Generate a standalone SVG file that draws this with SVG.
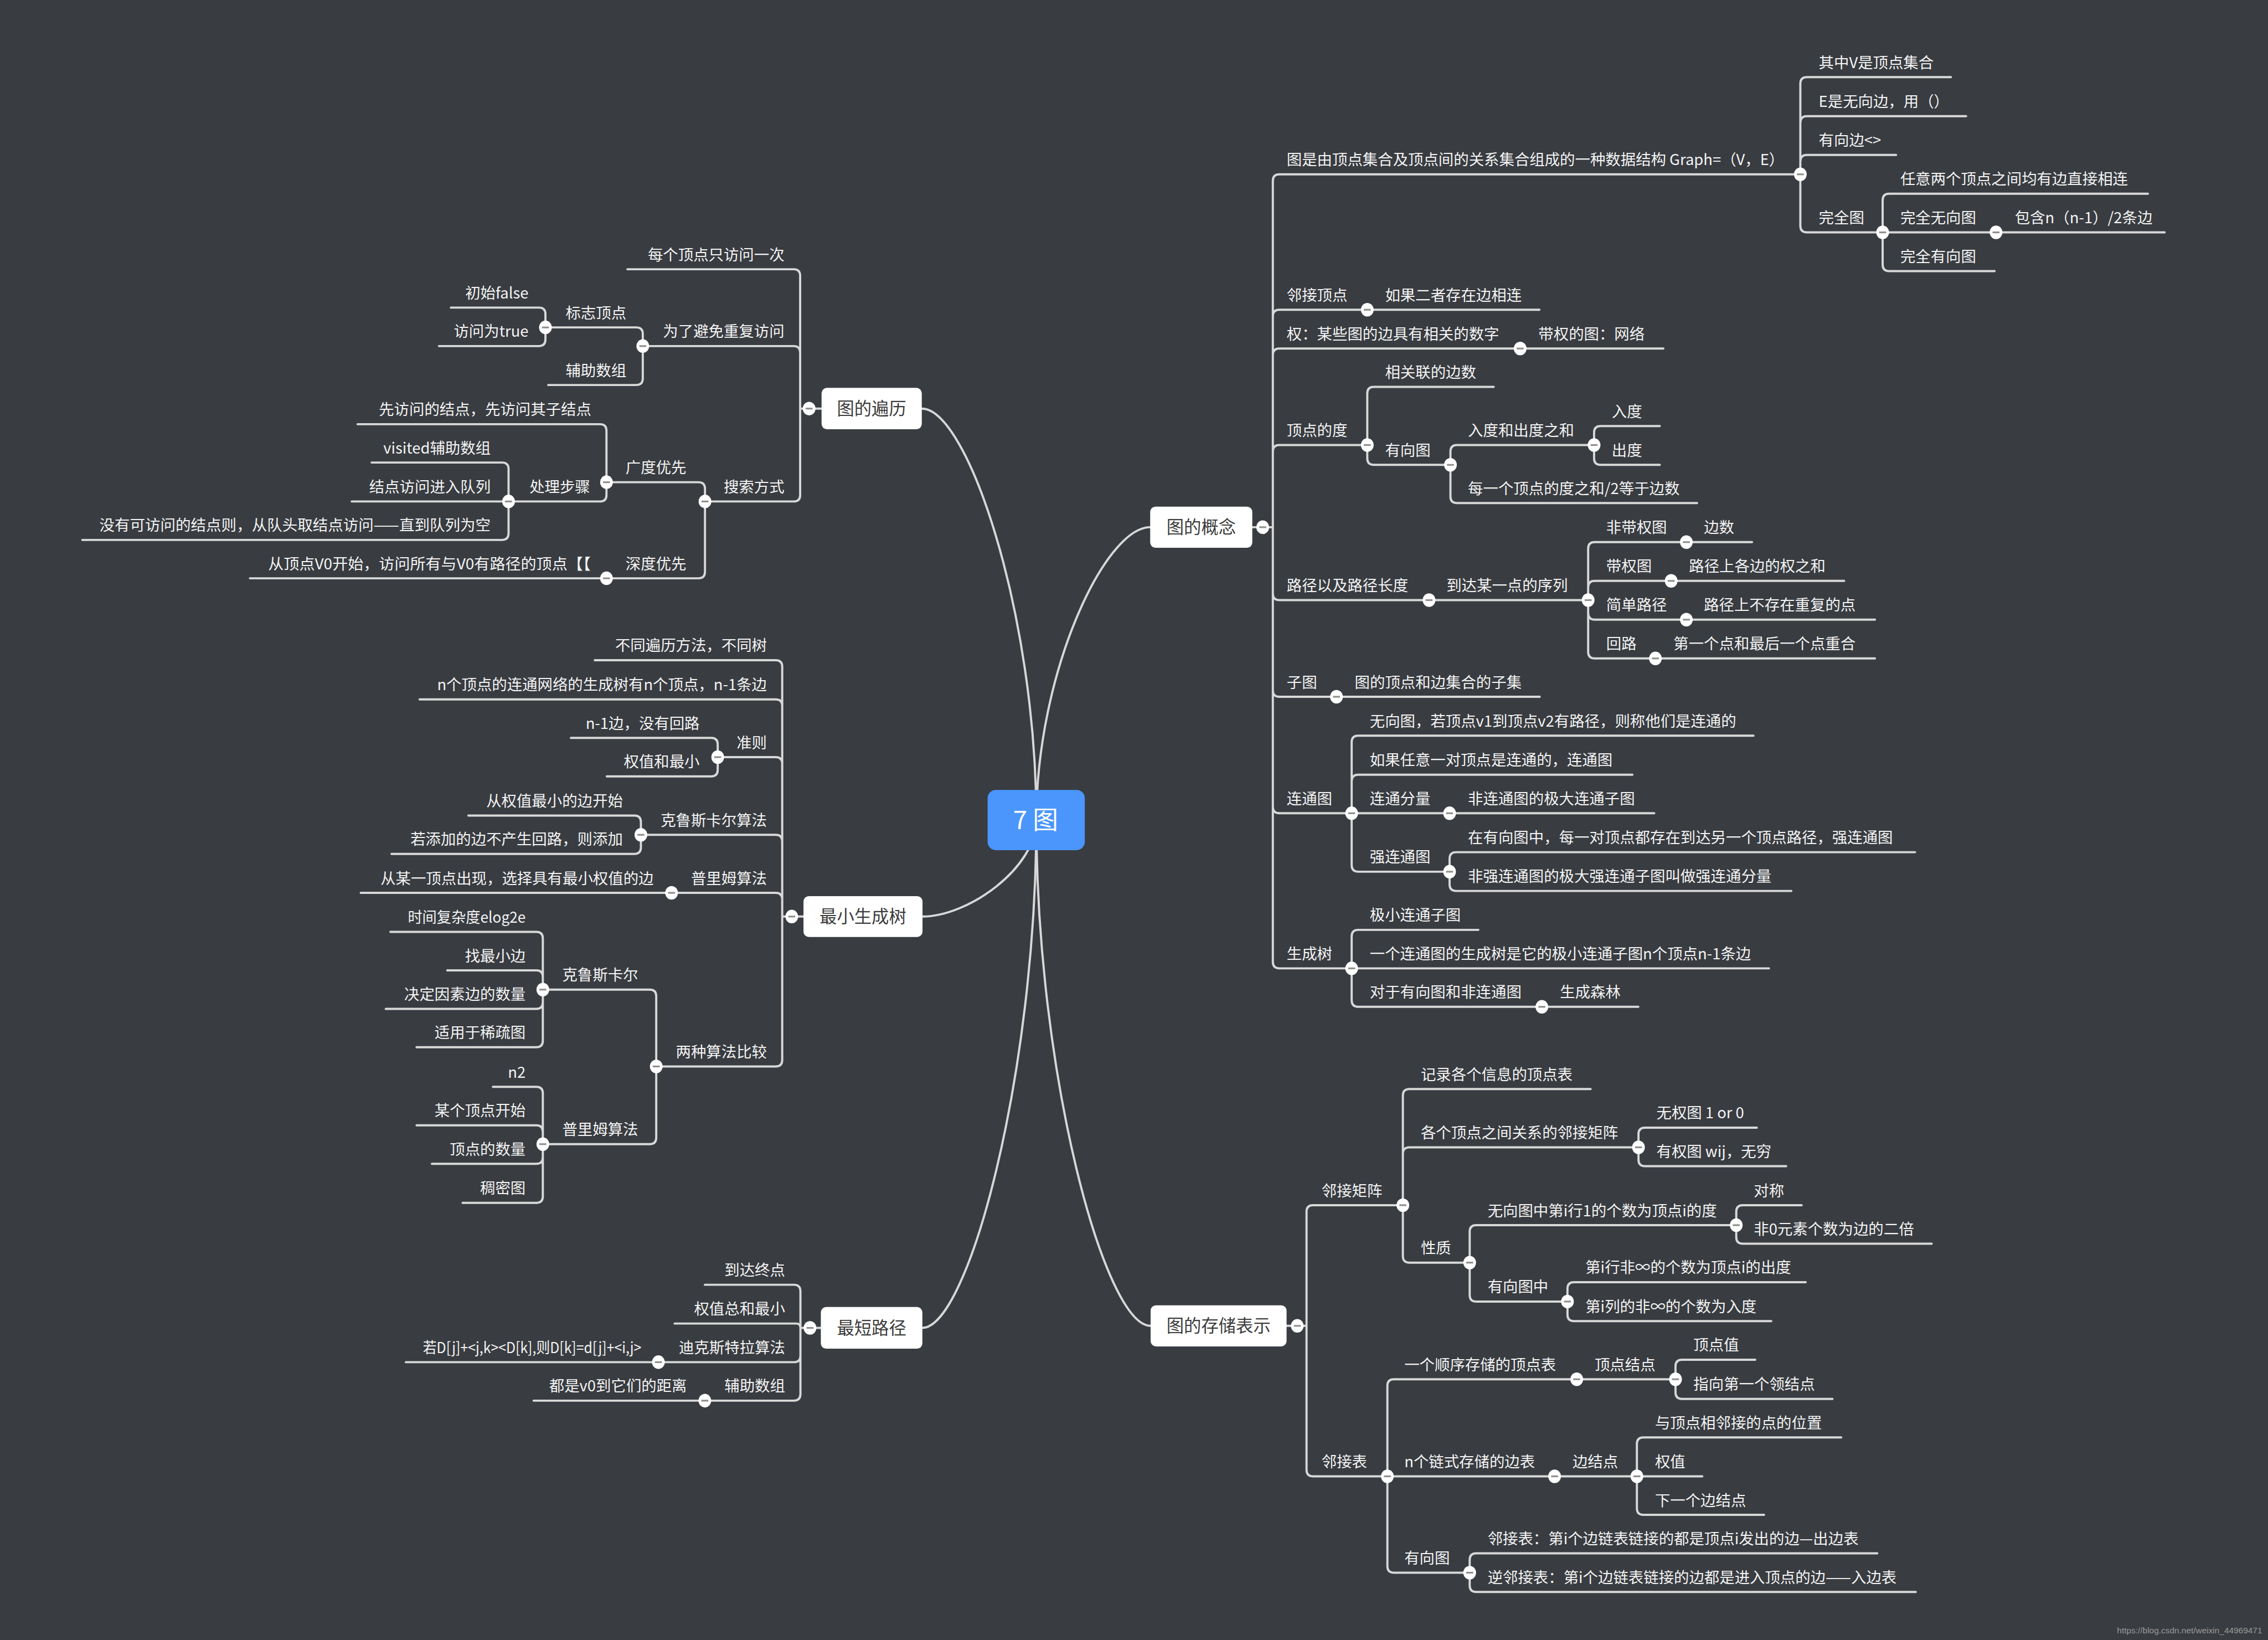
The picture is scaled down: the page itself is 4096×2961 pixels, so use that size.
<svg xmlns="http://www.w3.org/2000/svg" xmlns:xlink="http://www.w3.org/1999/xlink" width="4096" height="2961" viewBox="0 0 4096 2961">
<style>
.s{font-family:"Noto Sans CJK SC","Noto Sans",sans-serif;font-size:10.5px;fill:#f4f4f4}
.e{text-anchor:end}
.m{font-family:"Noto Sans CJK SC","Noto Sans",sans-serif;font-size:12px;fill:#3c3c3c;text-anchor:middle}
.c{fill:none;stroke:#d8d8d8;stroke-width:1.5;stroke-linecap:round}
.box{fill:#ffffff}
</style>
<defs>
<g id="k"><ellipse rx="4.4" ry="4.7" fill="#ffffff"/><rect x="-2.4" y="-0.6" width="4.8" height="1.2" fill="#8e8e8e"/></g>
</defs>
<rect width="4096" height="2961" fill="#393c41"/>
<g transform="scale(2.6122)">
<g id="connectors" class="c">
<path d="M716.5,566.8 C716.5,424.6 669,282.4 637.3,282.4"/>
<path d="M716.5,566.8 C716.5,465.6 763.7,364.4 795.2,364.4"/>
<path d="M716.5,566.8 C716.5,600 669.3,633.5 637.8,633.5"/>
<path d="M716.5,566.8 C716.5,742.3 669.3,917.8 637.7,917.8"/>
<path d="M716.5,566.8 C716.5,741.6 763.7,916.4 795.5,916.4"/>
<path d="M865.8,364.4 H880
M880,364.4 V125 Q880,120.5 884.5,120.5 H1244.7
M880,364.4 V218.6 Q880,214.1 884.5,214.1 H1064.3
M880,364.4 V245.4 Q880,240.9 884.5,240.9 H1150
M880,364.4 V312.1 Q880,307.6 884.5,307.6 H945.3
M880,364.4 V410.3 Q880,414.8 884.5,414.8 H1098
M880,364.4 V477.1 Q880,481.6 884.5,481.6 H1064.5
M880,364.4 V557.6 Q880,562.1 884.5,562.1 H934.5
M880,364.4 V664.8 Q880,669.3 884.5,669.3 H934.5"/>
<path d="M1244.7,120.5 V57.8 Q1244.7,53.3 1249.2,53.3 H1348.8
M1244.7,120.5 V84.8 Q1244.7,80.3 1249.2,80.3 H1359.3
M1244.7,120.5 V111.6 Q1244.7,107.1 1249.2,107.1 H1310.9
M1244.7,120.5 V156.1 Q1244.7,160.6 1249.2,160.6 H1301.6
M1301.6,160.6 V138.4 Q1301.6,133.9 1306.1,133.9 H1485
M1301.6,160.6 H1496.6
M1301.6,160.6 V182.9 Q1301.6,187.4 1306.1,187.4 H1379"/>
<path d="M945.3,307.6 V271.9 Q945.3,267.4 949.8,267.4 H1032.7
M945.3,307.6 V316.8 Q945.3,321.3 949.8,321.3 H1002.8
M1002.8,321.3 V312.1 Q1002.8,307.6 1007.3,307.6 H1102.1
M1002.8,321.3 V343.2 Q1002.8,347.7 1007.3,347.7 H1173.3
M1102.1,307.6 V299 Q1102.1,294.5 1106.6,294.5 H1147.5
M1102.1,307.6 V316.8 Q1102.1,321.3 1106.6,321.3 H1147.5"/>
<path d="M1098,414.8 V379.2 Q1098,374.7 1102.5,374.7 H1211.3
M1098,414.8 V406 Q1098,401.5 1102.5,401.5 H1275
M1098,414.8 V423.8 Q1098,428.3 1102.5,428.3 H1296.3
M1098,414.8 V450.6 Q1098,455.1 1102.5,455.1 H1296.3"/>
<path d="M934.5,562.1 V513 Q934.5,508.5 939,508.5 H1212.3
M934.5,562.1 V540 Q934.5,535.5 939,535.5 H1128.6
M934.5,562.1 H1143.7
M934.5,562.1 V598 Q934.5,602.5 939,602.5 H1002.2
M1002.2,602.5 V593.5 Q1002.2,589 1006.7,589 H1324
M1002.2,602.5 V611.3 Q1002.2,615.8 1006.7,615.8 H1238.5
M934.5,669.3 V647.2 Q934.5,642.7 939,642.7 H1022.1
M934.5,669.3 H1223
M934.5,669.3 V691.4 Q934.5,695.9 939,695.9 H1132.7"/>
<path d="M889.5,916.4 H903.3
M903.3,916.4 V837.5 Q903.3,833 907.8,833 H969.9
M903.3,916.4 V1015.9 Q903.3,1020.4 907.8,1020.4 H959.2
M969.9,833 V757.2 Q969.9,752.7 974.4,752.7 H1099.7
M969.9,833 V797.5 Q969.9,793 974.4,793 H1132.8
M969.9,833 V868.2 Q969.9,872.7 974.4,872.7 H1016.1
M1132.8,793 V783.9 Q1132.8,779.4 1137.3,779.4 H1214.6
M1132.8,793 V801.5 Q1132.8,806 1137.3,806 H1234.9
M1016.1,872.7 V851.3 Q1016.1,846.8 1020.6,846.8 H1200.4
M1016.1,872.7 V895.1 Q1016.1,899.6 1020.6,899.6 H1083.7
M1200.4,846.8 V837.5 Q1200.4,833 1204.9,833 H1245.6
M1200.4,846.8 V855.1 Q1200.4,859.6 1204.9,859.6 H1335.5
M1083.7,899.6 V890.7 Q1083.7,886.2 1088.2,886.2 H1248.4
M1083.7,899.6 V908.6 Q1083.7,913.1 1088.2,913.1 H1224.6"/>
<path d="M959.2,1020.4 V957.8 Q959.2,953.3 963.7,953.3 H1158.4
M959.2,1020.4 H1131.7
M959.2,1020.4 V1082.5 Q959.2,1087 963.7,1087 H1016.1
M1158.4,953.3 V944.3 Q1158.4,939.8 1162.9,939.8 H1213.5
M1158.4,953.3 V962.4 Q1158.4,966.9 1162.9,966.9 H1266.9
M1131.7,1020.4 V998 Q1131.7,993.5 1136.2,993.5 H1273
M1131.7,1020.4 H1176.9
M1131.7,1020.4 V1042.5 Q1131.7,1047 1136.2,1047 H1219.6
M1016.1,1087 V1078.1 Q1016.1,1073.6 1020.6,1073.6 H1297.9
M1016.1,1087 V1095.8 Q1016.1,1100.3 1020.6,1100.3 H1324.5"/>
<path d="M568,282.4 H553.2
M553.2,282.4 V190.6 Q553.2,186.1 548.7,186.1 H433.8
M553.2,282.4 V243.7 Q553.2,239.2 548.7,239.2 H444.4
M553.2,282.4 V342.1 Q553.2,346.6 548.7,346.6 H487.4
M444.4,239.2 V230.8 Q444.4,226.3 439.9,226.3 H377.1
M444.4,239.2 V261.6 Q444.4,266.1 439.9,266.1 H379
M377.1,226.3 V217.1 Q377.1,212.6 372.6,212.6 H311.7
M377.1,226.3 V234.7 Q377.1,239.2 372.6,239.2 H303.5
M487.4,346.6 V337.8 Q487.4,333.3 482.9,333.3 H419.3
M487.4,346.6 V395.2 Q487.4,399.7 482.9,399.7 H172.8
M419.3,333.3 V297.7 Q419.3,293.2 414.8,293.2 H247.2
M419.3,333.3 V342.1 Q419.3,346.6 414.8,346.6 H351.6
M351.6,346.6 V324.2 Q351.6,319.7 347.1,319.7 H256.9
M351.6,346.6 H243.2
M351.6,346.6 V368.7 Q351.6,373.2 347.1,373.2 H56.9"/>
<path d="M555.5,633.5 H540.8
M540.8,633.5 V460.8 Q540.8,456.3 536.3,456.3 H411.2
M540.8,633.5 V487.9 Q540.8,483.4 536.3,483.4 H290.1
M540.8,633.5 V527.8 Q540.8,523.3 536.3,523.3 H496.2
M540.8,633.5 V581.5 Q540.8,577 536.3,577 H443.1
M540.8,633.5 V621.6 Q540.8,617.1 536.3,617.1 H249.4
M540.8,633.5 V732.6 Q540.8,737.1 536.3,737.1 H453.7
M496.2,523.3 V514.5 Q496.2,510 491.7,510 H394.7
M496.2,523.3 V532.1 Q496.2,536.6 491.7,536.6 H419.5
M443.1,577 V568.2 Q443.1,563.7 438.6,563.7 H323.8
M443.1,577 V585.7 Q443.1,590.2 438.6,590.2 H270.7
M453.7,737.1 V688.5 Q453.7,684 449.2,684 H375.3
M453.7,737.1 V786.3 Q453.7,790.8 449.2,790.8 H375.3
M375.3,684 V648.6 Q375.3,644.1 370.8,644.1 H269.9
M375.3,684 V675.2 Q375.3,670.7 370.8,670.7 H309.2
M375.3,684 V692.8 Q375.3,697.3 370.8,697.3 H266.7
M375.3,684 V719.3 Q375.3,723.8 370.8,723.8 H288
M375.3,790.8 V755.7 Q375.3,751.2 370.8,751.2 H340.8
M375.3,790.8 V782.3 Q375.3,777.8 370.8,777.8 H288
M375.3,790.8 V799.9 Q375.3,804.4 370.8,804.4 H298.6
M375.3,790.8 V826.9 Q375.3,831.4 370.8,831.4 H319.8"/>
<path d="M567.5,917.8 H553.4
M553.4,917.8 V892.5 Q553.4,888 548.9,888 H487.3
M553.4,917.8 Q553.4,914.8 550.4,914.8 H466.4
M553.4,917.8 V937 Q553.4,941.5 548.9,941.5 H280.6
M553.4,917.8 V963.6 Q553.4,968.1 548.9,968.1 H368.9"/>
</g>
<g id="collapse-markers">
<use href="#k" x="873" y="364.4"/><use href="#k" x="1244.7" y="120.5"/><use href="#k" x="1301.6" y="160.6"/><use href="#k" x="1380" y="160.6"/>
<use href="#k" x="945.3" y="214.1"/><use href="#k" x="1051" y="240.9"/><use href="#k" x="945.3" y="307.6"/><use href="#k" x="1002.8" y="321.3"/>
<use href="#k" x="1102.1" y="307.6"/><use href="#k" x="988" y="414.8"/><use href="#k" x="1098" y="414.8"/><use href="#k" x="1165.9" y="374.7"/>
<use href="#k" x="1155.4" y="401.5"/><use href="#k" x="1165.9" y="428.3"/><use href="#k" x="1144.5" y="455.1"/><use href="#k" x="924" y="481.6"/>
<use href="#k" x="934.5" y="562.1"/><use href="#k" x="1002.2" y="562.1"/><use href="#k" x="1002.2" y="602.5"/><use href="#k" x="934.5" y="669.3"/>
<use href="#k" x="1066" y="695.9"/>
<use href="#k" x="896.9" y="916.4"/><use href="#k" x="969.9" y="833"/><use href="#k" x="1132.8" y="793"/><use href="#k" x="1016.1" y="872.7"/>
<use href="#k" x="1200.4" y="846.8"/><use href="#k" x="1083.7" y="899.6"/><use href="#k" x="959.2" y="1020.4"/><use href="#k" x="1090.1" y="953.3"/>
<use href="#k" x="1158.4" y="953.3"/><use href="#k" x="1074.8" y="1020.4"/><use href="#k" x="1131.7" y="1020.4"/><use href="#k" x="1016.1" y="1087"/>
<use href="#k" x="559.4" y="282.4"/><use href="#k" x="444.4" y="239.2"/><use href="#k" x="377.1" y="226.3"/><use href="#k" x="487.4" y="346.6"/>
<use href="#k" x="419.3" y="333.3"/><use href="#k" x="351.6" y="346.6"/><use href="#k" x="419.3" y="399.7"/>
<use href="#k" x="547.4" y="633.5"/><use href="#k" x="496.2" y="523.3"/><use href="#k" x="443.1" y="577"/><use href="#k" x="464.3" y="617.1"/>
<use href="#k" x="453.7" y="737.1"/><use href="#k" x="375.3" y="684"/><use href="#k" x="375.3" y="790.8"/>
<use href="#k" x="560" y="917.8"/><use href="#k" x="455.2" y="941.5"/><use href="#k" x="487.3" y="968.1"/>
</g>
<g id="root"><rect x="682.8" y="546" width="67.2" height="41.6" rx="5.7" fill="#4a96fc"/><text x="716" y="573" font-family="'Noto Sans CJK SC','Noto Sans',sans-serif" font-size="17.5" fill="#ffffff" text-anchor="middle">7 图</text></g>
<g id="t-concept"><rect class="box" x="795.2" y="350.2" width="70.6" height="28.4" rx="3.7"/><text class="m" x="830.5" y="368.7">图的概念</text></g>
<g id="t-storage"><rect class="box" x="795.5" y="902.2" width="94" height="28.4" rx="3.7"/><text class="m" x="842.5" y="920.7">图的存储表示</text></g>
<g id="t-traverse"><rect class="box" x="568" y="268.1" width="69.3" height="28.6" rx="3.7"/><text class="m" x="602.6" y="286.7">图的遍历</text></g>
<g id="t-mst"><rect class="box" x="555.5" y="619.4" width="82.3" height="28.2" rx="3.7"/><text class="m" x="596.6" y="637.8">最小生成树</text></g>
<g id="t-shortest"><rect class="box" x="567.5" y="903.4" width="70.2" height="28.8" rx="3.7"/><text class="m" x="602.6" y="922.1">最短路径</text></g>
<g id="concept-nodes" class="s">
<g id="c1"><text x="889.6" y="114.2">图是由顶点集合及顶点间的关系集合组成的一种数据结构 Graph=（V，E）</text></g>
<g id="c1a"><text x="1257.4" y="47">其中V是顶点集合</text></g>
<g id="c1b"><text x="1257.4" y="74">E是无向边，用（）</text></g>
<g id="c1c"><text x="1257.4" y="100.8">有向边&lt;&gt;</text></g>
<g id="c1d"><text x="1257.4" y="154.3">完全图</text></g>
<g id="c1d1"><text x="1313.8" y="127.6">任意两个顶点之间均有边直接相连</text></g>
<g id="c1d2"><text x="1313.8" y="154.3">完全无向图</text></g>
<g id="c1d2a"><text x="1393" y="154.3">包含n（n-1）/2条边</text></g>
<g id="c1d3"><text x="1313.8" y="181.1">完全有向图</text></g>
<g id="c2"><text x="889.6" y="207.8">邻接顶点</text></g>
<g id="c2a"><text x="957.6" y="207.8">如果二者存在边相连</text></g>
<g id="c3"><text x="889.6" y="234.6">权：某些图的边具有相关的数字</text></g>
<g id="c3a"><text x="1063.6" y="234.6">带权的图：网络</text></g>
<g id="c4"><text x="889.6" y="301.3">顶点的度</text></g>
<g id="c4a"><text x="957.6" y="261.1">相关联的边数</text></g>
<g id="c4b"><text x="957.6" y="315">有向图</text></g>
<g id="c4b1"><text x="1014.9" y="301.3">入度和出度之和</text></g>
<g id="c4b1a"><text x="1114.3" y="288.2">入度</text></g>
<g id="c4b1b"><text x="1114.3" y="315">出度</text></g>
<g id="c4b2"><text x="1014.9" y="341.4">每一个顶点的度之和/2等于边数</text></g>
<g id="c5"><text x="889.6" y="408.5">路径以及路径长度</text></g>
<g id="c5a"><text x="1000" y="408.5">到达某一点的序列</text></g>
<g id="c5a1"><text x="1110.5" y="368.4">非带权图</text></g>
<g id="c5a1a"><text x="1178" y="368.4">边数</text></g>
<g id="c5a2"><text x="1110.5" y="395.2">带权图</text></g>
<g id="c5a2a"><text x="1167.7" y="395.2">路径上各边的权之和</text></g>
<g id="c5a3"><text x="1110.5" y="422">简单路径</text></g>
<g id="c5a3a"><text x="1178" y="422">路径上不存在重复的点</text></g>
<g id="c5a4"><text x="1110.5" y="448.8">回路</text></g>
<g id="c5a4a"><text x="1157" y="448.8">第一个点和最后一个点重合</text></g>
<g id="c6"><text x="889.6" y="475.3">子图</text></g>
<g id="c6a"><text x="936.6" y="475.3">图的顶点和边集合的子集</text></g>
<g id="c7"><text x="889.6" y="555.8">连通图</text></g>
<g id="c7a"><text x="947" y="502.2">无向图，若顶点v1到顶点v2有路径，则称他们是连通的</text></g>
<g id="c7b"><text x="947" y="529.2">如果任意一对顶点是连通的，连通图</text></g>
<g id="c7c"><text x="947" y="555.8">连通分量</text></g>
<g id="c7c1"><text x="1014.9" y="555.8">非连通图的极大连通子图</text></g>
<g id="c7d"><text x="947" y="596.2">强连通图</text></g>
<g id="c7d1"><text x="1014.9" y="582.7">在有向图中，每一对顶点都存在到达另一个顶点路径，强连通图</text></g>
<g id="c7d2"><text x="1014.9" y="609.5">非强连通图的极大强连通子图叫做强连通分量</text></g>
<g id="c8"><text x="889.6" y="663">生成树</text></g>
<g id="c8a"><text x="947" y="636.4">极小连通子图</text></g>
<g id="c8b"><text x="947" y="663">一个连通图的生成树是它的极小连通子图n个顶点n-1条边</text></g>
<g id="c8c"><text x="947" y="689.6">对于有向图和非连通图</text></g>
<g id="c8c1"><text x="1078.5" y="689.6">生成森林</text></g>
</g>
<g id="storage-nodes" class="s">
<g id="s1"><text x="913.7" y="826.7">邻接矩阵</text></g>
<g id="s1a"><text x="982.3" y="746.4">记录各个信息的顶点表</text></g>
<g id="s1b"><text x="982.3" y="786.7">各个顶点之间关系的邻接矩阵</text></g>
<g id="s1b1"><text x="1145.2" y="773.1">无权图 1 or 0</text></g>
<g id="s1b2"><text x="1145.2" y="799.7">有权图 wij，无穷</text></g>
<g id="s1c"><text x="982.3" y="866.4">性质</text></g>
<g id="s1c1"><text x="1028.5" y="840.5">无向图中第i行1的个数为顶点i的度</text></g>
<g id="s1c1a"><text x="1212.5" y="826.7">对称</text></g>
<g id="s1c1b"><text x="1212.5" y="853.3">非0元素个数为边的二倍</text></g>
<g id="s1c2"><text x="1028.5" y="893.3">有向图中</text></g>
<g id="s1c2a"><text x="1096.1" y="879.9">第i行非∞的个数为顶点i的出度</text></g>
<g id="s1c2b"><text x="1096.1" y="906.8">第i列的非∞的个数为入度</text></g>
<g id="s2"><text x="913.7" y="1014.1">邻接表</text></g>
<g id="s2a"><text x="970.9" y="947">一个顺序存储的顶点表</text></g>
<g id="s2a1"><text x="1102.5" y="947">顶点结点</text></g>
<g id="s2a1a"><text x="1170.8" y="933.5">顶点值</text></g>
<g id="s2a1b"><text x="1170.8" y="960.6">指向第一个领结点</text></g>
<g id="s2b"><text x="970.9" y="1014.1">n个链式存储的边表</text></g>
<g id="s2b1"><text x="1087.2" y="1014.1">边结点</text></g>
<g id="s2b1a"><text x="1144.2" y="987.2">与顶点相邻接的点的位置</text></g>
<g id="s2b1b"><text x="1144.2" y="1014.1">权值</text></g>
<g id="s2b1c"><text x="1144.2" y="1040.7">下一个边结点</text></g>
<g id="s2c"><text x="970.9" y="1080.7">有向图</text></g>
<g id="s2c1"><text x="1028.5" y="1067.3">邻接表：第i个边链表链接的都是顶点i发出的边—出边表</text></g>
<g id="s2c2"><text x="1028.5" y="1094">逆邻接表：第i个边链表链接的边都是进入顶点的边——入边表</text></g>
</g>
<g id="traverse-nodes" class="s e">
<g id="v1"><text x="542.3" y="179.8">每个顶点只访问一次</text></g>
<g id="v2"><text x="542.3" y="232.9">为了避免重复访问</text></g>
<g id="v2a"><text x="433" y="220">标志顶点</text></g>
<g id="v2a1"><text x="365.4" y="206.3">初始false</text></g>
<g id="v2a2"><text x="365.4" y="232.9">访问为true</text></g>
<g id="v2b"><text x="433" y="259.8">辅助数组</text></g>
<g id="v3"><text x="542.3" y="340.3">搜索方式</text></g>
<g id="v3a"><text x="474.5" y="327">广度优先</text></g>
<g id="v3a1"><text x="408.8" y="286.9">先访问的结点，先访问其子结点</text></g>
<g id="v3a2"><text x="408" y="340.3">处理步骤</text></g>
<g id="v3a2a"><text x="339.2" y="313.4">visited辅助数组</text></g>
<g id="v3a2b"><text x="339.2" y="340.3">结点访问进入队列</text></g>
<g id="v3a2c"><text x="339.2" y="366.9" textLength="270.5" lengthAdjust="spacingAndGlyphs">没有可访问的结点则，从队头取结点访问——直到队列为空</text></g>
<g id="v3b"><text x="474.5" y="393.4">深度优先</text></g>
<g id="v3b1"><text x="408.4" y="393.4" textLength="223" lengthAdjust="spacingAndGlyphs">从顶点V0开始，访问所有与V0有路径的顶点【【</text></g>
</g>
<g id="mst-nodes" class="s e">
<g id="m1"><text x="530.2" y="450">不同遍历方法，不同树</text></g>
<g id="m2"><text x="530.2" y="477.1">n个顶点的连通网络的生成树有n个顶点，n-1条边</text></g>
<g id="m3"><text x="530.2" y="517">准则</text></g>
<g id="m3a"><text x="483.7" y="503.7">n-1边，没有回路</text></g>
<g id="m3b"><text x="483.7" y="530.3">权值和最小</text></g>
<g id="m4"><text x="530.2" y="570.7">克鲁斯卡尔算法</text></g>
<g id="m4a"><text x="430.6" y="557.4">从权值最小的边开始</text></g>
<g id="m4b"><text x="430.6" y="583.9">若添加的边不产生回路，则添加</text></g>
<g id="m5"><text x="530.2" y="610.8">普里姆算法</text></g>
<g id="m5a"><text x="451.9" y="610.8">从某一顶点出现，选择具有最小权值的边</text></g>
<g id="m6"><text x="530.2" y="730.8">两种算法比较</text></g>
<g id="m6a"><text x="441.2" y="677.7">克鲁斯卡尔</text></g>
<g id="m6a1"><text x="363.4" y="637.8" textLength="81.5" lengthAdjust="spacingAndGlyphs">时间复杂度elog2e</text></g>
<g id="m6a2"><text x="363.4" y="664.4">找最小边</text></g>
<g id="m6a3"><text x="363.4" y="691">决定因素边的数量</text></g>
<g id="m6a4"><text x="363.4" y="717.5">适用于稀疏图</text></g>
<g id="m6b"><text x="441.2" y="784.5">普里姆算法</text></g>
<g id="m6b1"><text x="363.4" y="744.9">n2</text></g>
<g id="m6b2"><text x="363.4" y="771.5">某个顶点开始</text></g>
<g id="m6b3"><text x="363.4" y="798.1">顶点的数量</text></g>
<g id="m6b4"><text x="363.4" y="825.1">稠密图</text></g>
</g>
<g id="shortest-nodes" class="s e">
<g id="p1"><text x="542.8" y="881.7">到达终点</text></g>
<g id="p2"><text x="542.8" y="908.5">权值总和最小</text></g>
<g id="p3"><text x="542.8" y="935.2">迪克斯特拉算法</text></g>
<g id="p3a"><text x="443.4" y="935.2" textLength="151" lengthAdjust="spacingAndGlyphs">若D[j]+&lt;j,k&gt;&lt;D[k],则D[k]=d[j]+&lt;i,j&gt;</text></g>
<g id="p4"><text x="542.8" y="961.8">辅助数组</text></g>
<g id="p4a"><text x="474.9" y="961.8">都是v0到它们的距离</text></g>
</g>
<text x="1564" y="1129" font-family="'Liberation Sans',Arial,sans-serif" font-size="5.9" fill="#9a9a9a" text-anchor="end">https://blog.csdn.net/weixin_44969471</text>
</g>
</svg>
